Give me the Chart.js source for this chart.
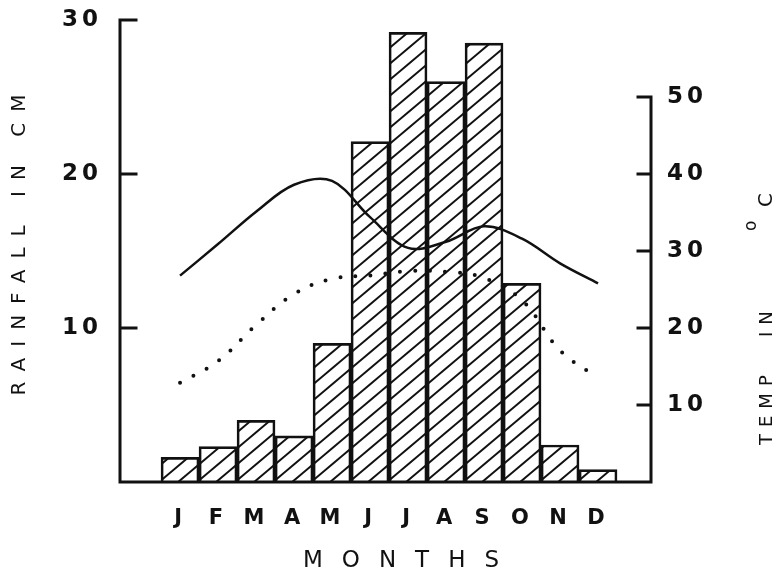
<!DOCTYPE html>
<html>
<head>
<meta charset="utf-8">
<script src="https://cdn.jsdelivr.net/npm/chart.js@4.4.1/dist/chart.umd.min.js"></script>
<style>
    html, body { margin: 0; padding: 0; background: #fff; }
    #wrap { width: 776px; height: 578px; }
</style>
</head>
<body>
<div id="wrap"><canvas id="climateChart" width="776" height="578"></canvas></div>
<script>
// Data
const months = ['J', 'F', 'M', 'A', 'M', 'J', 'J', 'A', 'S', 'O', 'N', 'D'];
const rainfall = [1.6, 2.3, 4.0, 3.0, 9.0, 22.1, 29.2, 26.0, 28.5, 12.9, 2.4, 0.8];
const maxTemp = [26.8, 30.9, 35.1, 38.6, 39.1, 34.4, 30.4, 31.2, 33.2, 31.6, 28.4, 25.8];
const minTemp = [12.9, 15.7, 20.4, 24.4, 26.4, 26.8, 27.4, 27.3, 26.5, 23.6, 17.1, 13.5];
const rainTicks = [10, 20, 30];
const tempTicks = [10, 20, 30, 40, 50];

const INK = '#111';

// Hatch pattern for the rainfall bars (lines cross tile edges mid-way, not at corners)
function makeHatch(ctx) {
    const w = 19, h = 16;
    const tile = document.createElement('canvas');
    tile.width = w;
    tile.height = h;
    const t = tile.getContext('2d');
    t.strokeStyle = INK;
    t.lineWidth = 2;
    t.beginPath();
    [h / 2, 3 * h / 2, -h / 2].forEach(c => {
        t.moveTo(-w, c + h);
        t.lineTo(2 * w, c - 2 * h);
    });
    t.stroke();
    return ctx.createPattern(tile, 'repeat');
}

// Text with letter spacing, centred on (cx, cy)
function drawSpaced(ctx, text, cx, cy, spacing, rotate) {
    ctx.save();
    ctx.letterSpacing = spacing + 'px';
    const w = ctx.measureText(text).width - spacing;
    ctx.translate(cx, cy);
    if (rotate) ctx.rotate(-Math.PI / 2);
    ctx.textAlign = 'left';
    ctx.textBaseline = 'middle';
    ctx.fillText(text, -w / 2, 0);
    ctx.restore();
}

// Vertical axes: fixed width and no extra label padding, so the plot box stays put
function fixAxis(width) {
    return scale => {
        scale.width = width;
        scale.paddingTop = 0;
        scale.paddingBottom = 0;
    };
}

// Axis lines, inside tick marks and titles
const framePlugin = {
    id: 'frame',
    beforeDraw(chart) {
        chart.ctx.letterSpacing = '4px';
    },
    afterDraw(chart) {
        const ctx = chart.ctx;
        const { left, right, top, bottom } = chart.chartArea;
        const y = chart.scales.y;
        const y2 = chart.scales.y2;
        ctx.letterSpacing = '0px';

        ctx.save();
        ctx.strokeStyle = INK;
        ctx.lineWidth = 3;
        ctx.lineCap = 'square';
        ctx.beginPath();
        ctx.moveTo(left, top);
        ctx.lineTo(left, bottom);
        ctx.lineTo(right - 1, bottom);
        ctx.lineTo(right - 1, y2.getPixelForValue(50));
        rainTicks.forEach(v => {
            const py = y.getPixelForValue(v);
            ctx.moveTo(left, py);
            ctx.lineTo(left + 16, py);
        });
        tempTicks.forEach(v => {
            const py = y2.getPixelForValue(v);
            ctx.moveTo(right - 1, py);
            ctx.lineTo(right - 14, py);
        });
        ctx.stroke();
        ctx.restore();

        ctx.save();
        ctx.fillStyle = INK;
        ctx.font = '20px "DejaVu Sans"';
        drawSpaced(ctx, 'RAINFALL IN CM', 20, 245, 11, true);
        ctx.font = '23px "DejaVu Sans"';
        drawSpaced(ctx, 'MONTHS', 401, 561, 19, false);

        // right title, drawn in pieces like the original lettering
        ctx.translate(767, 445);
        ctx.rotate(-Math.PI / 2);
        ctx.textAlign = 'left';
        ctx.textBaseline = 'middle';
        ctx.font = '18px "DejaVu Sans"';
        ctx.letterSpacing = '7px';
        ctx.fillText('TEMP', 0, 0);
        ctx.fillText('IN', 108, 0);
        ctx.letterSpacing = '0px';
        ctx.font = '17px "DejaVu Sans"';
        ctx.fillText('o', 214, -15);
        ctx.font = '20px "DejaVu Sans"';
        ctx.fillText('C', 238, 0);
        ctx.restore();
    }
};

const canvas = document.getElementById('climateChart');
const ctx = canvas.getContext('2d');
const hatch = makeHatch(ctx);

const tickFont = { family: 'DejaVu Sans', size: 23, weight: 'bold' };

new Chart(ctx, {
    type: 'bar',
    data: {
        datasets: [
            {
                type: 'line',
                label: 'Max temp',
                data: maxTemp.map((v, i) => ({ x: i, y: v })),
                yAxisID: 'y2',
                borderColor: INK,
                borderWidth: 2.5,
                tension: 0.35,
                pointRadius: 0,
                fill: false,
                order: 0
            },
            {
                type: 'line',
                label: 'Min temp',
                data: minTemp.map((v, i) => ({ x: i, y: v })),
                yAxisID: 'y2',
                borderColor: INK,
                borderWidth: 4,
                borderDash: [0, 15],
                borderCapStyle: 'round',
                tension: 0.4,
                pointRadius: 0,
                fill: false,
                order: 0
            },
            {
                label: 'Rainfall',
                data: rainfall.map((v, i) => ({ x: i, y: v })),
                yAxisID: 'y',
                backgroundColor: hatch,
                borderColor: INK,
                borderWidth: 2,
                barPercentage: 1,
                categoryPercentage: 1,
                order: 1
            }
        ]
    },
    options: {
        responsive: false,
        animation: false,
        layout: { autoPadding: false, padding: { top: 20, left: 0, right: 0, bottom: 0 } },
        plugins: {
            legend: { display: false },
            tooltip: { enabled: false }
        },
        scales: {
            x: {
                type: 'linear',
                min: -1.58,
                max: 12.42,
                offset: false,
                grid: { display: false, drawTicks: false },
                border: { display: false },
                afterBuildTicks: scale => {
                    scale.ticks = months.map((m, i) => ({ value: i }));
                },
                afterFit: scale => {
                    scale.height = 96;
                    scale.paddingLeft = 0;
                    scale.paddingRight = 0;
                },
                ticks: {
                    autoSkip: false,
                    maxRotation: 0,
                    padding: 24,
                    color: INK,
                    font: { family: 'DejaVu Sans', size: 21, weight: 'bold' },
                    callback: v => months[v]
                }
            },
            y: {
                position: 'left',
                min: 0,
                max: 30,
                grid: { display: false, drawTicks: false },
                border: { display: false },
                afterBuildTicks: scale => {
                    scale.ticks = rainTicks.map(v => ({ value: v }));
                },
                afterFit: fixAxis(120),
                ticks: { padding: 18, color: INK, font: tickFont }
            },
            y2: {
                position: 'right',
                min: 0,
                max: 60,
                grid: { display: false, drawTicks: false },
                border: { display: false },
                afterBuildTicks: scale => {
                    scale.ticks = tempTicks.map(v => ({ value: v }));
                },
                afterFit: fixAxis(124),
                ticks: { padding: 15, color: INK, font: tickFont }
            }
        }
    },
    plugins: [framePlugin]
});
</script>
</body>
</html>
